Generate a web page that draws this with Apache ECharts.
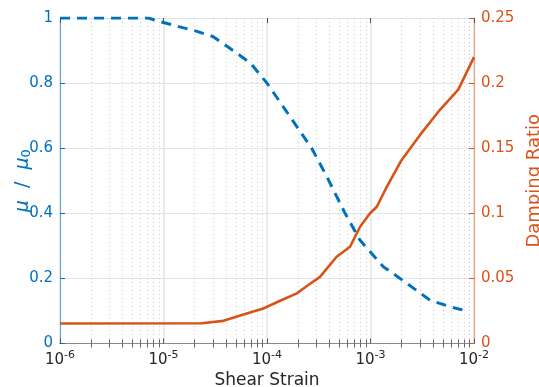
<!DOCTYPE html>
<html>
<head>
<meta charset="utf-8">
<script src="https://cdn.jsdelivr.net/npm/echarts@6/dist/echarts.min.js"></script>
<style>html,body{margin:0;padding:0;background:#fff}#c{width:539px;height:387px}</style>
</head>
<body>
<div id="c"></div>
<script>
// ---- data ----
const strainMu = [1e-6, 7.1e-6, 9.2e-6, 2.1e-5, 3.0e-5, 5.1e-5, 6.9e-5, 1.0e-4, 1.67e-4, 2.7e-4, 3.78e-4, 5.68e-4, 7.9e-4, 1.33e-3, 1.93e-3, 3.76e-3, 5.86e-3, 8.5e-3];
const muRatio  = [1.0, 1.0, 0.989, 0.959, 0.943, 0.892, 0.862, 0.80, 0.697, 0.60, 0.513, 0.40, 0.318, 0.236, 0.20, 0.133, 0.113, 0.10];
const strainDamp = [1e-6, 2.34e-5, 3.79e-5, 6.37e-5, 9.2e-5, 1.34e-4, 1.94e-4, 2.51e-4, 3.25e-4, 4.71e-4, 6.34e-4, 7.93e-4, 9.9e-4, 1.15e-3, 1.44e-3, 2.0e-3, 3.0e-3, 4.69e-3, 7.05e-3, 1e-2];
const damping    = [0.0154, 0.0155, 0.0174, 0.023, 0.0269, 0.0328, 0.0385, 0.0449, 0.0512, 0.0666, 0.0743, 0.0897, 0.100, 0.105, 0.1205, 0.141, 0.160, 0.1795, 0.195, 0.220];
const decadeTicks = [1e-6, 1e-5, 1e-4, 1e-3, 1e-2];
const minorTicks = [];
for (let e = -6; e < -2; e++) for (let m = 2; m <= 9; m++) minorTicks.push(m * Math.pow(10, e));
const muTicks = [0, 0.2, 0.4, 0.6, 0.8, 1];
const dampTicks = [0, 0.05, 0.1, 0.15, 0.2, 0.25];

const BLUE = '#0072BD', ORANGE = '#D95319', GRAY = '#8a8a8a';
const FONT = 'DejaVu Sans';

const chart = echarts.init(document.getElementById('c'), null, {renderer: 'canvas'});
const base = {type: 'log', logBase: 10, min: 1e-6, max: 1e-2, gridIndex: 0};
chart.setOption({
  animation: false,
  backgroundColor: '#fff',
  grid: {left: 60, right: 65, top: 18, bottom: 43.5, containLabel: false, outerBoundsMode: 'none'},
  xAxis: [
    Object.assign({}, base, {
      position: 'bottom',
      axisLine: {show: true, lineStyle: {color: GRAY, width: 1}},
      axisTick: {show: true, inside: true, length: 5, customValues: decadeTicks, lineStyle: {color: '#555'}},
      axisLabel: {show: true, customValues: decadeTicks, margin: 6, color: '#262626', fontFamily: FONT,
        formatter: function (v) { const e = Math.round(Math.log10(v)); return '{b|10}{s|' + e + '}'; },
        rich: {b: {fontSize: 15, fontFamily: FONT, color: '#262626'},
               s: {fontSize: 11, fontFamily: FONT, color: '#262626', verticalAlign: 'bottom', padding: [0, 0, 10, 0]}}},
      splitLine: {show: true, lineStyle: {color: '#e4e4e4', width: 1.5}},
      minorTick: {show: false}, minorSplitLine: {show: false},
      name: 'Shear Strain', nameLocation: 'middle', nameGap: 26,
      nameTextStyle: {fontSize: 17, fontFamily: FONT, color: '#262626'}
    }),
    Object.assign({}, base, {
      position: 'top',
      axisLine: {show: true, lineStyle: {color: GRAY, width: 1}},
      axisTick: {show: true, inside: true, length: 4, customValues: minorTicks, lineStyle: {color: '#666'}},
      axisLabel: {show: false},
      splitLine: {show: true, lineStyle: {color: '#c9c9c9', width: 1, type: [1, 3]}}
    }),
    Object.assign({}, base, {
      position: 'top',
      axisLine: {show: false},
      axisTick: {show: true, inside: true, length: 5, customValues: decadeTicks, lineStyle: {color: '#555'}},
      axisLabel: {show: false},
      splitLine: {show: false}
    }),
    Object.assign({}, base, {
      position: 'bottom',
      axisLine: {show: false},
      axisTick: {show: true, inside: true, length: 4, customValues: minorTicks, lineStyle: {color: '#666'}},
      axisLabel: {show: false},
      splitLine: {show: false}
    })
  ],
  yAxis: [
    {
      type: 'value', min: 0, max: 1, interval: 0.2, position: 'left',
      axisLine: {show: true, lineStyle: {color: '#6aaee0', width: 1.2}},
      axisTick: {show: true, inside: true, length: 5, lineStyle: {color: BLUE}},
      axisLabel: {margin: 7, color: BLUE, fontSize: 15, fontFamily: FONT,
        formatter: function (v) { return String(Math.round(v * 10) / 10); }},
      splitLine: {show: true, lineStyle: {color: '#d7e7f4', width: 1.2}},
      name: '{i|μ}  /  {i|μ}{sub|0}', nameLocation: 'middle', nameGap: 27, nameRotate: 90,
      nameMoveOverlap: false,
      nameTextStyle: {color: BLUE, fontFamily: FONT, fontSize: 19,
        rich: {i: {fontStyle: 'italic', fontSize: 19, fontFamily: FONT, color: BLUE},
               sub: {fontSize: 13, fontFamily: FONT, color: BLUE, verticalAlign: 'bottom'}}}
    },
    {
      type: 'value', min: 0, max: 0.25, interval: 0.05, position: 'right',
      axisLine: {show: true, lineStyle: {color: '#eea07e', width: 1.2}},
      axisTick: {show: true, inside: true, length: 5, lineStyle: {color: ORANGE}},
      axisLabel: {margin: 7, color: ORANGE, fontSize: 15, fontFamily: FONT,
        formatter: function (v) { return String(Math.round(v * 100) / 100); }},
      splitLine: {show: false},
      name: 'Damping Ratio', nameLocation: 'middle', nameGap: 49, nameRotate: 90,
      nameTextStyle: {color: ORANGE, fontFamily: FONT, fontSize: 18}
    }
  ],
  series: [
    {
      type: 'line', xAxisIndex: 0, yAxisIndex: 1, z: 3,
      data: strainDamp.map((x, i) => [x, damping[i]]),
      symbol: 'none', smooth: false,
      lineStyle: {color: ORANGE, width: 2.6}
    },
    {
      type: 'line', xAxisIndex: 0, yAxisIndex: 0, z: 4,
      data: strainMu.map((x, i) => [x, muRatio[i]]),
      symbol: 'none', smooth: false,
      lineStyle: {color: BLUE, width: 3, type: [10, 7]}
    }
  ]
});
</script>
</body>
</html>
